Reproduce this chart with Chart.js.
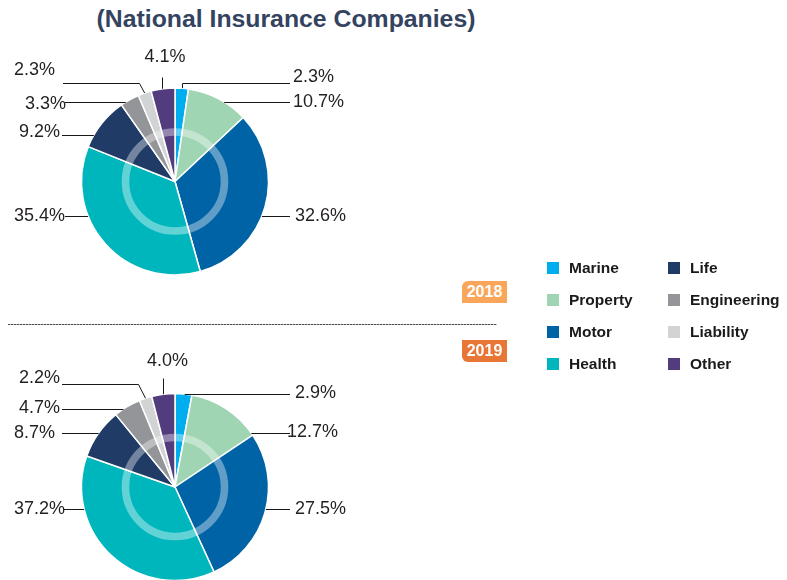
<!DOCTYPE html>
<html>
<head>
<meta charset="utf-8">
<script src="https://cdn.jsdelivr.net/npm/chart.js@4.4.1/dist/chart.umd.min.js"></script>
<style>
	body { margin: 0; background: #fff; }
	#wrap { position: relative; width: 787px; height: 580px; overflow: hidden; background: #fff; font-family: "Liberation Sans", Arial, sans-serif; }
	#title { position: absolute; left: 0; top: 5px; width: 572px; text-align: center; font-weight: bold; font-size: 24.8px; color: #34435f; }
	.pie { position: absolute; left: 0; }
	#sep { position: absolute; left: 8px; top: 324px; width: 489px; height: 1px; background: repeating-linear-gradient(90deg, #4a4a4a 0 2px, #b5b5b5 2px 3px); }
	.badge { position: absolute; left: 462px; width: 45px; height: 22px; line-height: 22px; text-align: center; color: #fff; font-weight: bold; font-size: 16px; }
	.lg-box { position: absolute; width: 12px; height: 12px; }
	.lg-txt { position: absolute; font-weight: bold; font-size: 15.5px; color: #1a1a1a; line-height: 18px; }
</style>
</head>
<body>
<div id="wrap">
	<div id="title">(National Insurance Companies)</div>
	<canvas id="pie2018" class="pie" width="360" height="291" style="top:36px"></canvas>
	<canvas id="pie2019" class="pie" width="360" height="294" style="top:340px"></canvas>
	<div id="sep"></div>
	<div class="badge" style="top:281px;background:#f9a65a;border-top-left-radius:6px;">2018</div>
	<div class="badge" style="top:340px;background:#e87636;border-bottom-left-radius:6px;">2019</div>
	<div id="legend"></div>
</div>
<script>
"use strict";

// categories, clockwise from 12 o'clock
var categories = ['Marine', 'Property', 'Motor', 'Health', 'Life', 'Engineering', 'Liability', 'Other'];
var colors = ['#00aeef', '#9fd5b3', '#0063a5', '#00b6bd', '#1f3b66', '#939598', '#d1d3d4', '#523c7e'];

// share of premiums (%)
var values2018 = [2.3, 10.7, 32.6, 35.4, 9.2, 3.3, 2.3, 4.1];
var values2019 = [2.9, 12.7, 27.5, 37.2, 8.7, 4.7, 2.2, 4.0];

// label placement relative to pie centre: line end (lx, ly), text anchor (tx, ty), elbow shift kx
var labelPos2018 = [
	{lx: 115, ly: -98, tx: 118, ty: -104, align: 'left', kx: 1},
	{lx: 115, ly: -79.5, tx: 118, ty: -79.5, align: 'left'},
	{lx: 115, ly: 34.5, tx: 120, ty: 34.5, align: 'left'},
	{lx: -110, ly: 34.5, tx: -110, ty: 34.5, align: 'right'},
	{lx: -113, ly: -46.5, tx: -115, ty: -49, align: 'right'},
	{lx: -110, ly: -79.5, tx: -109, ty: -77.5, align: 'right'},
	{lx: -112, ly: -98.5, tx: -120, ty: -111.5, align: 'right', kx: -5},
	{lx: 0, ly: -104.5, tx: -10, ty: -124.5, align: 'center'}
];
var labelPos2019 = [
	{lx: 115, ly: -93, tx: 120, ty: -93.5, align: 'left', kx: 1},
	{lx: 115, ly: -54, tx: 112, ty: -54.5, align: 'left'},
	{lx: 115, ly: 22, tx: 120, ty: 22, align: 'left'},
	{lx: -112, ly: 22, tx: -110, ty: 22, align: 'right'},
	{lx: -113, ly: -54, tx: -120, ty: -53.5, align: 'right'},
	{lx: -113, ly: -78, tx: -115, ty: -78.5, align: 'right'},
	{lx: -113, ly: -103, tx: -115, ty: -108.5, align: 'right', kx: -7},
	{lx: 0, ly: -109, tx: -7.5, ty: -125.5, align: 'center'}
];

var PIE_RADIUS = 93.5;
var RING_RADIUS = 49.5;
var RING_WIDTH = 7.6;

function snap(v) {
	return Math.round(v - 0.5) + 0.5;
}

var pieDecor = {
	id: 'pieDecor',
	afterDatasetsDraw: function (chart) {
		var ctx = chart.ctx;
		var meta = chart.getDatasetMeta(0);
		var arcs = meta.data;
		var cx = arcs[0].x, cy = arcs[0].y;
		var pos = chart.options.plugins.pieDecor.labels;
		var vals = chart.data.datasets[0].data;

		// translucent ring
		ctx.save();
		ctx.beginPath();
		ctx.arc(cx, cy, RING_RADIUS, 0, Math.PI * 2);
		ctx.lineWidth = RING_WIDTH;
		ctx.strokeStyle = 'rgba(255,255,255,0.38)';
		ctx.stroke();
		ctx.restore();

		ctx.save();
		ctx.strokeStyle = '#1a1718';
		ctx.lineWidth = 1;
		ctx.fillStyle = '#231f20';
		ctx.font = '18px "Liberation Sans", Arial, sans-serif';
		ctx.textBaseline = 'middle';

		arcs.forEach(function (arc, i) {
			var p = arc.getProps(['startAngle', 'endAngle', 'outerRadius'], true);
			var L = pos[i];
			var R = p.outerRadius;
			var mid = (p.startAngle + p.endAngle) / 2;
			var ax = cx + Math.cos(mid) * R;
			var ay = cy + Math.sin(mid) * R;
			var ly = snap(cy + L.ly);
			var lx = cx + L.lx;

			ctx.beginPath();
			if (L.align === 'center') {
				ctx.moveTo(snap(ax), ay);
				ctx.lineTo(snap(ax), ly);
			} else {
				var side = L.align === 'left' ? 1 : -1;
				var dy = L.ly;
				var hit = false;
				if (Math.abs(dy) < R) {
					var ex = cx + side * Math.sqrt(R * R - dy * dy);
					var ang = Math.atan2(dy, ex - cx);
					while (ang < p.startAngle) ang += Math.PI * 2;
					if (ang <= p.endAngle) {
						hit = true;
						ctx.moveTo(ex, ly);
						ctx.lineTo(lx, ly);
					}
				}
				if (!hit) {
					var kx = snap(ax + (L.kx || 0));
					ctx.moveTo(L.kx === 1 ? kx : ax, ay);
					ctx.lineTo(kx, ly);
					ctx.lineTo(lx, ly);
				}
			}
			ctx.stroke();

			ctx.textAlign = L.align;
			ctx.fillText(vals[i].toFixed(1) + '%', cx + L.tx, cy + L.ty);
		});
		ctx.restore();
	}
};

function makePie(id, values, labelPos, pad) {
	return new Chart(document.getElementById(id), {
		type: 'pie',
		data: {
			labels: categories,
			datasets: [{
				data: values,
				backgroundColor: colors,
				borderColor: '#ffffff',
				borderWidth: 1.5
			}]
		},
		options: {
			responsive: false,
			animation: false,
			radius: PIE_RADIUS,
			layout: { padding: pad },
			plugins: {
				legend: { display: false },
				tooltip: { enabled: false },
				pieDecor: { labels: labelPos }
			}
		},
		plugins: [pieDecor]
	});
}

// centre 2018 pie at (175, 181.5), 2019 pie at (175, 487)
makePie('pie2018', values2018, labelPos2018, {left: 0, right: 10, top: 0, bottom: 0});
makePie('pie2019', values2019, labelPos2019, {left: 0, right: 10, top: 0, bottom: 0});

// legend, two columns of four
var legend = document.getElementById('legend');
var colX = [547, 668];
var rowY = [268, 300, 332, 364];
categories.forEach(function (name, i) {
	var col = Math.floor(i / 4), row = i % 4;
	var box = document.createElement('div');
	box.className = 'lg-box';
	box.style.left = colX[col] + 'px';
	box.style.top = (rowY[row] - 6) + 'px';
	box.style.background = colors[i];
	legend.appendChild(box);
	var txt = document.createElement('div');
	txt.className = 'lg-txt';
	txt.style.left = (colX[col] + 22) + 'px';
	txt.style.top = (rowY[row] - 9) + 'px';
	txt.textContent = name;
	legend.appendChild(txt);
});
</script>
</body>
</html>
